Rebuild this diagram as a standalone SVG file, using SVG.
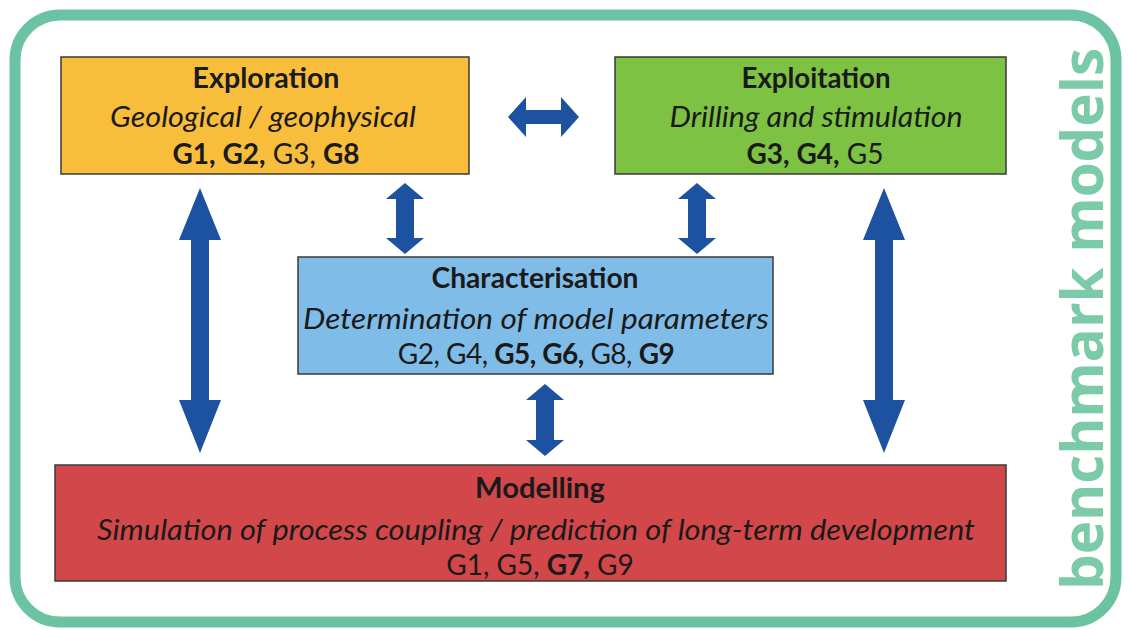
<svg xmlns="http://www.w3.org/2000/svg" width="1129" height="630" viewBox="0 0 1129 630">
  <style>
    .box { stroke: #3a3a3a; stroke-width: 1.5; }
    .t { font-family: Lato, "Liberation Sans", sans-serif; font-size: 28px; fill: #1a1a1a; text-anchor: middle; }
    .b { font-weight: bold; }
    .i { font-style: italic; }
    .arrow { fill: #1d52a0; }
  </style>

  <rect x="0" y="0" width="1129" height="630" fill="#ffffff"/>

  <!-- outer frame -->
  <rect x="15" y="15" width="1101" height="607" rx="45" ry="45" fill="none" stroke="#6cc3a2" stroke-width="11"/>
  <text x="0" y="0" transform="translate(1103 590) rotate(-90)" font-family="'Open Sans', 'Liberation Sans', sans-serif" font-weight="bold" font-size="58" fill="#7ccba8" textLength="542" lengthAdjust="spacingAndGlyphs">benchmark models</text>

  <!-- connectors -->
  <g id="connectors" class="arrow">
    <!-- Exploration <-> Exploitation -->
    <polygon points="508,117 526,97 526,110 561,110 561,97 579,117 561,137 561,124 526,124 526,137"/>
    <!-- Exploration <-> Characterisation -->
    <polygon points="405,183 424,199 414,199 414,238 424,238 405,254 386,238 396,238 396,199 386,199"/>
    <!-- Exploitation <-> Characterisation -->
    <polygon points="697,183 716,199 706,199 706,238 716,238 697,254 678,238 688,238 688,199 678,199"/>
    <!-- Characterisation <-> Modelling -->
    <polygon points="545,384 564,400 554,400 554,440 564,440 545,456 526,440 536,440 536,400 526,400"/>
    <!-- Exploration <-> Modelling -->
    <polygon points="200,188 221,240 209,240 209,400 221,400 200,453 179,400 191,400 191,240 179,240"/>
    <!-- Exploitation <-> Modelling -->
    <polygon points="884,188 905,240 893,240 893,400 905,400 884,453 863,400 875,400 875,240 863,240"/>
  </g>

  <g id="exploration">
    <rect class="box" x="61" y="57" width="408" height="117" fill="#f8bd3b"/>
    <text class="t b" x="266" y="88" textLength="147" lengthAdjust="spacingAndGlyphs">Exploration</text>
    <text class="t i" x="263" y="127" textLength="306" lengthAdjust="spacingAndGlyphs">Geological / geophysical</text>
    <text class="t" x="266" y="164"><tspan class="b">G1, G2,</tspan> G3, <tspan class="b">G8</tspan></text>
  </g>

  <g id="exploitation">
    <rect class="box" x="615" y="57" width="391" height="117" fill="#7dc243"/>
    <text class="t b" x="816" y="88" textLength="149" lengthAdjust="spacingAndGlyphs">Exploitation</text>
    <text class="t i" x="816" y="127" textLength="293" lengthAdjust="spacingAndGlyphs">Drilling and stimulation</text>
    <text class="t" x="815" y="164"><tspan class="b">G3, G4,</tspan> G5</text>
  </g>

  <g id="characterisation">
    <rect class="box" x="298" y="257" width="475" height="117" fill="#7fbde8"/>
    <text class="t b" x="535" y="288" textLength="207" lengthAdjust="spacingAndGlyphs">Characterisation</text>
    <text class="t i" x="536" y="329" textLength="466" lengthAdjust="spacingAndGlyphs">Determination of model parameters</text>
    <text class="t" x="536" y="364" letter-spacing="-0.5">G2, G4, <tspan class="b">G5, G6,</tspan> G8, <tspan class="b">G9</tspan></text>
  </g>

  <g id="modelling">
    <rect class="box" x="55" y="465" width="951" height="116" fill="#d2474a"/>
    <text class="t b" x="540" y="498" textLength="130" lengthAdjust="spacingAndGlyphs">Modelling</text>
    <text class="t i" x="536" y="540" textLength="878" lengthAdjust="spacingAndGlyphs">Simulation of process coupling / prediction of long-term development</text>
    <text class="t" x="540" y="575"><tspan>G1, G5, </tspan><tspan class="b">G7,</tspan><tspan> G9</tspan></text>
  </g>
</svg>
